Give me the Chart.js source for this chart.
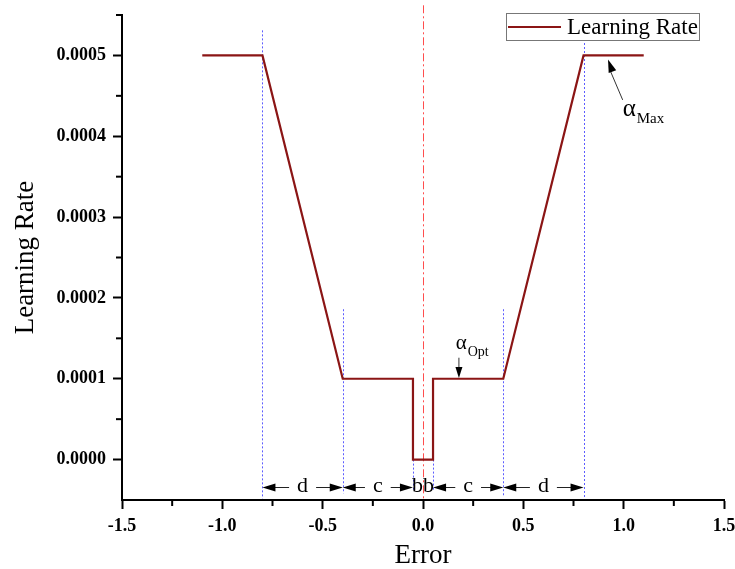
<!DOCTYPE html>
<html>
<head>
<meta charset="utf-8">
<script src="https://cdn.jsdelivr.net/npm/chart.js@4.4.1/dist/chart.umd.min.js"></script>
<style>
  html, body { margin: 0; padding: 0; background: #fff; }
</style>
</head>
<body>
<canvas id="lrChart" width="735" height="569"></canvas>
<script>
// learning rate against error
const errorX = [-1.1, -0.8, -0.4, -0.05, -0.05, 0.05, 0.05, 0.4, 0.8, 1.1];
const rateY = [0.0005, 0.0005, 0.0001, 0.0001, 0.0, 0.0, 0.0001, 0.0001, 0.0005, 0.0005];

const xTicks = [-1.5, -1.0, -0.5, 0.0, 0.5, 1.0, 1.5];
const xMinor = [-1.25, -0.75, -0.25, 0.25, 0.75, 1.25];
const yTicks = [0.0, 0.0001, 0.0002, 0.0003, 0.0004, 0.0005];
const yMinor = [0.00005, 0.00015, 0.00025, 0.00035, 0.00045, 0.00055];

// blue dotted guides (x, from, to)
const guideX = [-0.8, -0.4, -0.05, 0.05, 0.4, 0.8];
const guideTop = [0.000531, 0.000186, 0.0, 0.0, 0.000186, 0.00055];
const guideBottom = [-0.000048, -0.000042, -0.000038, -0.000038, -0.000044, -0.000048];

// width spans along the bottom
const spanFrom = [-0.8, -0.4, 0.05, 0.4];
const spanTo = [-0.4, -0.05, 0.4, 0.8];
const spanLabel = ['d', 'c', 'c', 'd'];
const spanY = -0.000034;

const serif = "'Liberation Serif', 'Times New Roman', serif";

function px(chart, v) { return chart.scales.x.getPixelForValue(v); }
function py(chart, v) { return chart.scales.y.getPixelForValue(v); }

function arrowHead(ctx, tx, ty, fx, fy, len, half) {
    const a = Math.atan2(ty - fy, tx - fx);
    ctx.save();
    ctx.translate(tx, ty);
    ctx.rotate(a);
    ctx.beginPath();
    ctx.moveTo(0, 0);
    ctx.lineTo(-len, -half);
    ctx.lineTo(-len, half);
    ctx.closePath();
    ctx.fill();
    ctx.restore();
}

function alphaLabel(ctx, x, y, sub, size, subSize) {
    ctx.font = size + 'px ' + serif;
    ctx.textAlign = 'left';
    ctx.textBaseline = 'alphabetic';
    ctx.fillText('α', x, y);
    const w = ctx.measureText('α').width;
    ctx.font = subSize + 'px ' + serif;
    ctx.fillText(sub, x + w + 1, y + 7);
}

const guides = {
    id: 'guides',
    beforeDatasetsDraw(chart) {
        const ctx = chart.ctx;
        ctx.save();
        // blue dotted lines
        ctx.strokeStyle = '#5c5cff';
        ctx.lineWidth = 1;
        ctx.setLineDash([2, 2]);
        guideX.forEach((g, i) => {
            const x = Math.round(px(chart, g)) + 0.5;
            ctx.beginPath();
            ctx.moveTo(x, py(chart, guideTop[i]));
            ctx.lineTo(x, py(chart, guideBottom[i]));
            ctx.stroke();
        });
        // red dash-dot at zero
        ctx.strokeStyle = '#ff4d4d';
        ctx.setLineDash([8, 3, 2, 3]);
        const x0 = Math.round(px(chart, 0)) + 0.5;
        ctx.beginPath();
        ctx.moveTo(x0, py(chart, 0.000562));
        ctx.lineTo(x0, py(chart, -0.00005));
        ctx.stroke();
        ctx.restore();
    },
    afterDraw(chart) {
        const ctx = chart.ctx;
        const area = chart.chartArea;
        ctx.save();
        ctx.setLineDash([]);

        // minor ticks
        ctx.strokeStyle = '#000';
        ctx.lineWidth = 2;
        xMinor.forEach(v => {
            const x = px(chart, v);
            ctx.beginPath();
            ctx.moveTo(x, area.bottom);
            ctx.lineTo(x, area.bottom + 6);
            ctx.stroke();
        });
        yMinor.forEach(v => {
            const y = py(chart, v);
            ctx.beginPath();
            ctx.moveTo(area.left - 6, y);
            ctx.lineTo(area.left, y);
            ctx.stroke();
        });

        // spans d c bb c d
        const sy = Math.round(py(chart, spanY)) + 0.5;
        ctx.fillStyle = '#000';
        ctx.strokeStyle = '#222';
        ctx.lineWidth = 1;
        ctx.font = '22px ' + serif;
        ctx.textAlign = 'center';
        ctx.textBaseline = 'alphabetic';
        spanLabel.forEach((lab, i) => {
            const x1 = px(chart, spanFrom[i]);
            const x2 = px(chart, spanTo[i]);
            const mid = (x1 + x2) / 2;
            const hw = ctx.measureText(lab).width / 2 + 8;
            ctx.beginPath();
            ctx.moveTo(x1 + 4, sy);
            ctx.lineTo(mid - hw, sy);
            ctx.moveTo(mid + hw, sy);
            ctx.lineTo(x2 - 4, sy);
            ctx.stroke();
            arrowHead(ctx, x1, sy, x1 + 10, sy, 13, 4);
            arrowHead(ctx, x2, sy, x2 - 10, sy, 13, 4);
            ctx.fillText(lab, mid, sy + 4);
        });
        ctx.fillText('bb', px(chart, 0), sy + 4);

        // alpha max
        ctx.strokeStyle = '#333';
        ctx.beginPath();
        ctx.moveTo(px(chart, 0.995), py(chart, 0.000445));
        ctx.lineTo(px(chart, 0.935), py(chart, 0.00048));
        ctx.stroke();
        arrowHead(ctx, px(chart, 0.922), py(chart, 0.000495), px(chart, 0.995), py(chart, 0.000445), 13, 4);
        alphaLabel(ctx, px(chart, 0.995), py(chart, 0.000425), 'Max', 25, 15);

        // alpha opt
        ctx.beginPath();
        ctx.moveTo(px(chart, 0.179), py(chart, 0.000126));
        ctx.lineTo(px(chart, 0.179), py(chart, 0.00011));
        ctx.stroke();
        arrowHead(ctx, px(chart, 0.179), py(chart, 0.000101), px(chart, 0.179), py(chart, 0.000126), 11, 3.5);
        alphaLabel(ctx, px(chart, 0.163), py(chart, 0.000137), 'Opt', 21, 14);

        // legend box
        const ds = chart.data.datasets[0];
        const bx = area.right - 218, by = area.top - 2, bw = 193, bh = 27;
        ctx.fillStyle = '#fff';
        ctx.fillRect(bx, by, bw, bh);
        ctx.strokeStyle = '#777';
        ctx.lineWidth = 1;
        ctx.strokeRect(bx + 0.5, by + 0.5, bw, bh);
        ctx.strokeStyle = ds.borderColor;
        ctx.lineWidth = 2;
        ctx.beginPath();
        ctx.moveTo(bx + 2, by + 14);
        ctx.lineTo(bx + 55, by + 14);
        ctx.stroke();
        ctx.fillStyle = '#000';
        ctx.font = '23px ' + serif;
        ctx.textAlign = 'left';
        ctx.fillText(ds.label, bx + 61, by + 21);
        ctx.restore();
    }
};

const ctx = document.getElementById('lrChart').getContext('2d');
const lrChart = new Chart(ctx, {
    type: 'scatter',
    data: {
        datasets: [{
            label: 'Learning Rate',
            data: errorX.map((x, i) => ({ x: x, y: rateY[i] })),
            borderColor: '#8b1515',
            borderWidth: 2.2,
            showLine: true,
            pointRadius: 0,
            tension: 0
        }]
    },
    options: {
        responsive: false,
        animation: false,
        layout: { padding: { top: 15, right: 11, bottom: 0, left: 0 } },
        plugins: { legend: { display: false }, tooltip: { enabled: false } },
        scales: {
            x: {
                type: 'linear',
                min: -1.5,
                max: 1.5,
                afterBuildTicks: s => { s.ticks = xTicks.map(v => ({ value: v })); },
                afterFit: s => { s.height = 69; s.paddingLeft = 0; s.paddingRight = 0; },
                grid: { drawOnChartArea: false, tickLength: 9, tickWidth: 2, tickColor: '#000' },
                border: { display: true, color: '#000', width: 2 },
                ticks: {
                    padding: 7,
                    color: '#000',
                    font: { family: serif, size: 18, weight: 'bold' },
                    callback: v => v.toFixed(1)
                },
                title: {
                    display: true,
                    text: 'Error',
                    color: '#000',
                    padding: { top: 0, bottom: 0 },
                    font: { family: serif, size: 27, lineHeight: 1 }
                }
            },
            y: {
                min: -0.00005,
                max: 0.00055,
                afterBuildTicks: s => { s.ticks = yTicks.map(v => ({ value: v })); },
                afterFit: s => { s.width = 122; s.paddingTop = 0; s.paddingBottom = 0; },
                grid: { drawOnChartArea: false, tickLength: 9, tickWidth: 2, tickColor: '#000' },
                border: { display: true, color: '#000', width: 2 },
                ticks: {
                    padding: 7,
                    color: '#000',
                    font: { family: serif, size: 18, weight: 'bold' },
                    callback: v => v.toFixed(4)
                },
                title: {
                    display: true,
                    text: 'Learning Rate',
                    color: '#000',
                    padding: { top: 10, bottom: 0 },
                    font: { family: serif, size: 27, lineHeight: 1.2 }
                }
            }
        }
    },
    plugins: [guides]
});
</script>
</body>
</html>
